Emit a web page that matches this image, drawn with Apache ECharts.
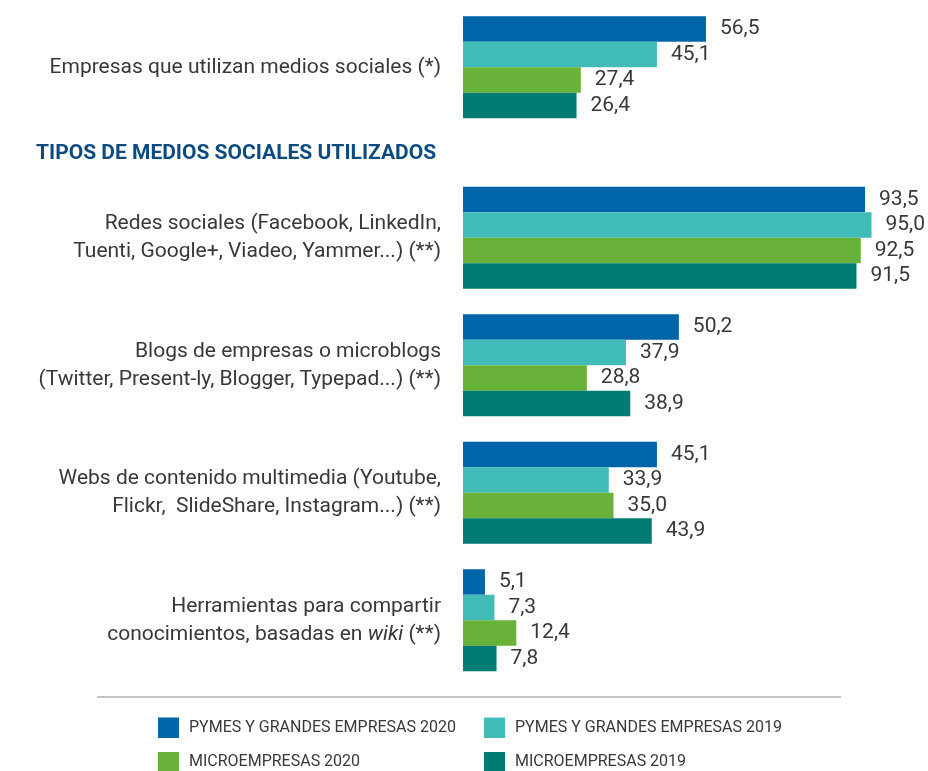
<!DOCTYPE html>
<html>
<head>
<meta charset="utf-8">
<script src="https://cdn.jsdelivr.net/npm/echarts@6/dist/echarts.min.js"></script>
<style>
  html, body { margin: 0; padding: 0; background: #fff; }
  #chart { width: 928px; height: 771px; }
</style>
</head>
<body>
<div id="chart"></div>
<script>
// categorias: la primera va en su propio bloque, luego el titulo, luego el resto
const topCategories = ['Empresas que utilizan medios sociales (*)']
const typeCategories = [
  'Redes sociales (Facebook, LinkedIn,\nTuenti, Google+, Viadeo, Yammer...) (**)',
  'Blogs de empresas o microblogs\n(Twitter, Present-ly, Blogger, Typepad...) (**)',
  'Webs de contenido multimedia (Youtube,\nFlickr,  SlideShare, Instagram...) (**)',
  'Herramientas para compartir\nconocimientos, basadas en wiki (**)'
]
const seriesNames = [
  'PYMES Y GRANDES EMPRESAS 2020',
  'PYMES Y GRANDES EMPRESAS 2019',
  'MICROEMPRESAS 2020',
  'MICROEMPRESAS 2019'
]
// valores: [empresas que utilizan, redes, blogs, multimedia, wiki]
const pymes2020 = [56.5, 93.5, 50.2, 45.1, 5.1]
const pymes2019 = [45.1, 95.0, 37.9, 33.9, 7.3]
const micro2020 = [27.4, 92.5, 28.8, 35.0, 12.4]
const micro2019 = [26.4, 91.5, 38.9, 43.9, 7.8]
const colors = ['#0064a8', '#41bbb8', '#68b23a', '#007c72']

const chart = echarts.init(document.getElementById('chart'), null, { renderer: 'canvas' })
const allValues = [pymes2020, pymes2019, micro2020, micro2019]
const font = 'Roboto'
const textColor = '#383838'

function makeSeries(gridIdx, values, i) {
  return {
    name: seriesNames[i],
    type: 'bar',
    xAxisIndex: gridIdx,
    yAxisIndex: gridIdx,
    data: values,
    barWidth: 25.5,
    barGap: '0%',
    itemStyle: { color: colors[i] },
    label: {
      show: true,
      position: 'right',
      distance: 14,
      color: textColor,
      fontFamily: font,
      fontSize: 21,
      formatter: p => p.value.toFixed(1).replace('.', ',')
    }
  }
}

const series = []
allValues.forEach((vals, i) => {
  series.push(makeSeries(0, vals.slice(0, 1), i))
})
allValues.forEach((vals, i) => {
  series.push(makeSeries(1, vals.slice(1), i))
})

const catLabel = {
  color: textColor,
  fontFamily: font,
  fontSize: 21,
  lineHeight: 28,
  align: 'right',
  margin: 22,
  formatter: v => v.replace(' wiki ', ' {i|wiki} '),
  rich: {
    i: { fontStyle: 'italic', fontFamily: font, fontSize: 21, color: textColor, lineHeight: 28 }
  }
}

// leyenda en 2 columnas: una leyenda por elemento
const legendPos = [[158, 717.5], [484, 717.5], [158, 752], [484, 752]]
const legends = seriesNames.map((name, i) => ({
  left: legendPos[i][0],
  top: legendPos[i][1],
  padding: 0,
  itemWidth: 21,
  itemHeight: 20.5,
  icon: 'rect',
  data: [name],
  textStyle: { color: textColor, fontFamily: font, fontSize: 16, padding: [2, 0, 0, 5] }
}))

const option = {
  backgroundColor: '#fff',
  animation: false,
  title: {
    text: 'TIPOS DE MEDIOS SOCIALES UTILIZADOS',
    left: 36,
    top: 143,
    padding: 0,
    textStyle: {
      color: '#0d4a80',
      fontFamily: font,
      fontWeight: 'bold',
      fontSize: 21
    }
  },
  grid: [
    { left: 463, width: 430, top: 3.5, height: 127.5 },
    { left: 463, width: 430, top: 174, height: 510 }
  ],
  xAxis: [
    { type: 'value', gridIndex: 0, min: 0, max: 100, show: false },
    { type: 'value', gridIndex: 1, min: 0, max: 100, show: false }
  ],
  yAxis: [
    {
      type: 'category', gridIndex: 0, inverse: true, data: topCategories,
      axisLine: { show: false }, axisTick: { show: false }, axisLabel: catLabel
    },
    {
      type: 'category', gridIndex: 1, inverse: true, data: typeCategories,
      axisLine: { show: false }, axisTick: { show: false }, axisLabel: catLabel
    }
  ],
  legend: legends,
  graphic: [{
    type: 'line',
    shape: { x1: 97, y1: 697, x2: 841, y2: 697 },
    style: { stroke: '#c4c4c4', lineWidth: 2 }
  }],
  series: series
}
chart.setOption(option)
</script>
</body>
</html>
